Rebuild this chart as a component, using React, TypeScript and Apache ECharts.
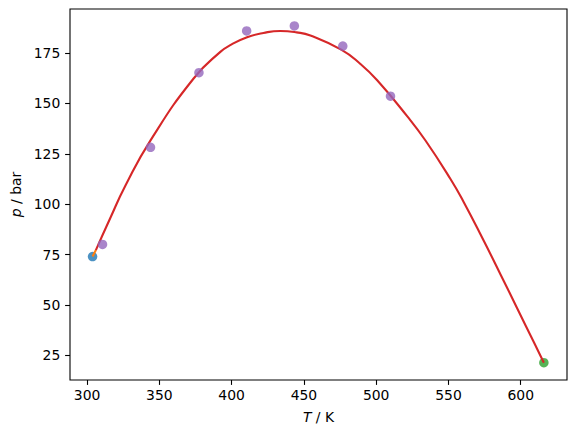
import React, { useEffect, useRef } from "react";
import * as echarts from "echarts";

// Data
const criticalPoint: [number, number][] = [[303.8, 74.0]];
const connector: [number, number][] = [
  [303.8, 74.0],
  [306.1, 77.2],
];
const endPoint: [number, number][] = [[616.0, 21.3]];
const fitCurve: [number, number][] = [
  [306.1, 77.2],
  [316.0, 93.0],
  [326.4, 109.0],
  [343.9, 131.7],
  [373.7, 162.4],
  [392.2, 175.6],
  [400.0, 179.3],
  [410.7, 182.9],
  [422.0, 185.0],
  [433.7, 186.0],
  [445.0, 185.3],
  [454.5, 183.7],
  [475.8, 176.7],
  [489.1, 169.6],
  [500.7, 161.5],
  [521.4, 143.7],
  [534.1, 131.6],
  [551.4, 112.5],
  [560.6, 101.0],
  [574.5, 81.7],
  [586.1, 65.0],
  [597.6, 48.2],
  [609.1, 31.4],
  [616.0, 21.3],
];
const measured: [number, number][] = [
  [310.7, 80.0],
  [343.9, 128.2],
  [377.4, 165.3],
  [410.4, 186.0],
  [443.4, 188.5],
  [476.9, 178.5],
  [509.9, 153.6],
];
const xTicks = [300, 350, 400, 450, 500, 550, 600];
const yTicks = [25, 50, 75, 100, 125, 150, 175];

const FONT = "DejaVu Sans";
const FS = 13.9;

export default function App() {
  const ref = useRef<HTMLDivElement>(null);
  useEffect(() => {
    if (!ref.current) return;
    const chart = echarts.init(ref.current, null, { renderer: "svg" });
    const labelStyle = { color: "#000", fontFamily: FONT, fontSize: FS };
    chart.setOption({
      animation: false,
      backgroundColor: "#fff",
      grid: {
        left: 70,
        right: 8,
        top: 9,
        bottom: 53,
        show: true,
        borderColor: "#000",
        borderWidth: 1.1,
        backgroundColor: "transparent",
      },
      xAxis: {
        type: "value",
        min: 288.2,
        max: 632.0,
        splitLine: { show: false },
        axisLine: { show: false },
        axisTick: {
          show: true,
          length: 4.9,
          lineStyle: { color: "#000", width: 1.1 },
          customValues: xTicks,
        },
        axisLabel: { ...labelStyle, margin: 8, customValues: xTicks },
        name: "{i|T} / K",
        nameLocation: "middle",
        nameGap: 30,
        nameTextStyle: {
          ...labelStyle,
          rich: { i: { ...labelStyle, fontStyle: "italic" } },
        },
      },
      yAxis: {
        type: "value",
        min: 12.7,
        max: 196.9,
        splitLine: { show: false },
        axisLine: { show: false },
        axisTick: {
          show: true,
          length: 4.9,
          lineStyle: { color: "#000", width: 1.1 },
          customValues: yTicks,
        },
        axisLabel: { ...labelStyle, margin: 9.7, customValues: yTicks },
        name: "{i|p} / bar",
        nameLocation: "middle",
        nameGap: 47,
        nameRotate: 90,
        nameTextStyle: {
          ...labelStyle,
          rich: { i: { ...labelStyle, fontStyle: "italic" } },
        },
      },
      series: [
        {
          type: "scatter",
          data: criticalPoint,
          symbolSize: 9.5,
          itemStyle: { color: "#1f77b4" },
          z: 1,
        },
        {
          type: "line",
          data: connector,
          showSymbol: false,
          lineStyle: { color: "#ff7f0e", width: 2.1 },
          z: 2,
        },
        {
          type: "scatter",
          data: endPoint,
          symbolSize: 9.5,
          itemStyle: { color: "#2ca02c" },
          z: 3,
        },
        {
          type: "line",
          data: fitCurve,
          showSymbol: false,
          smooth: 0.5,
          lineStyle: { color: "#d62728", width: 2.1 },
          z: 4,
        },
        {
          type: "scatter",
          data: measured,
          symbolSize: 9.5,
          itemStyle: { color: "#9467bd" },
          z: 5,
        },
      ],
    });
    return () => chart.dispose();
  }, []);
  return (
    <div
      ref={ref}
      style={{ position: "fixed", left: 0, top: 0, width: 575, height: 433 }}
    />
  );
}
